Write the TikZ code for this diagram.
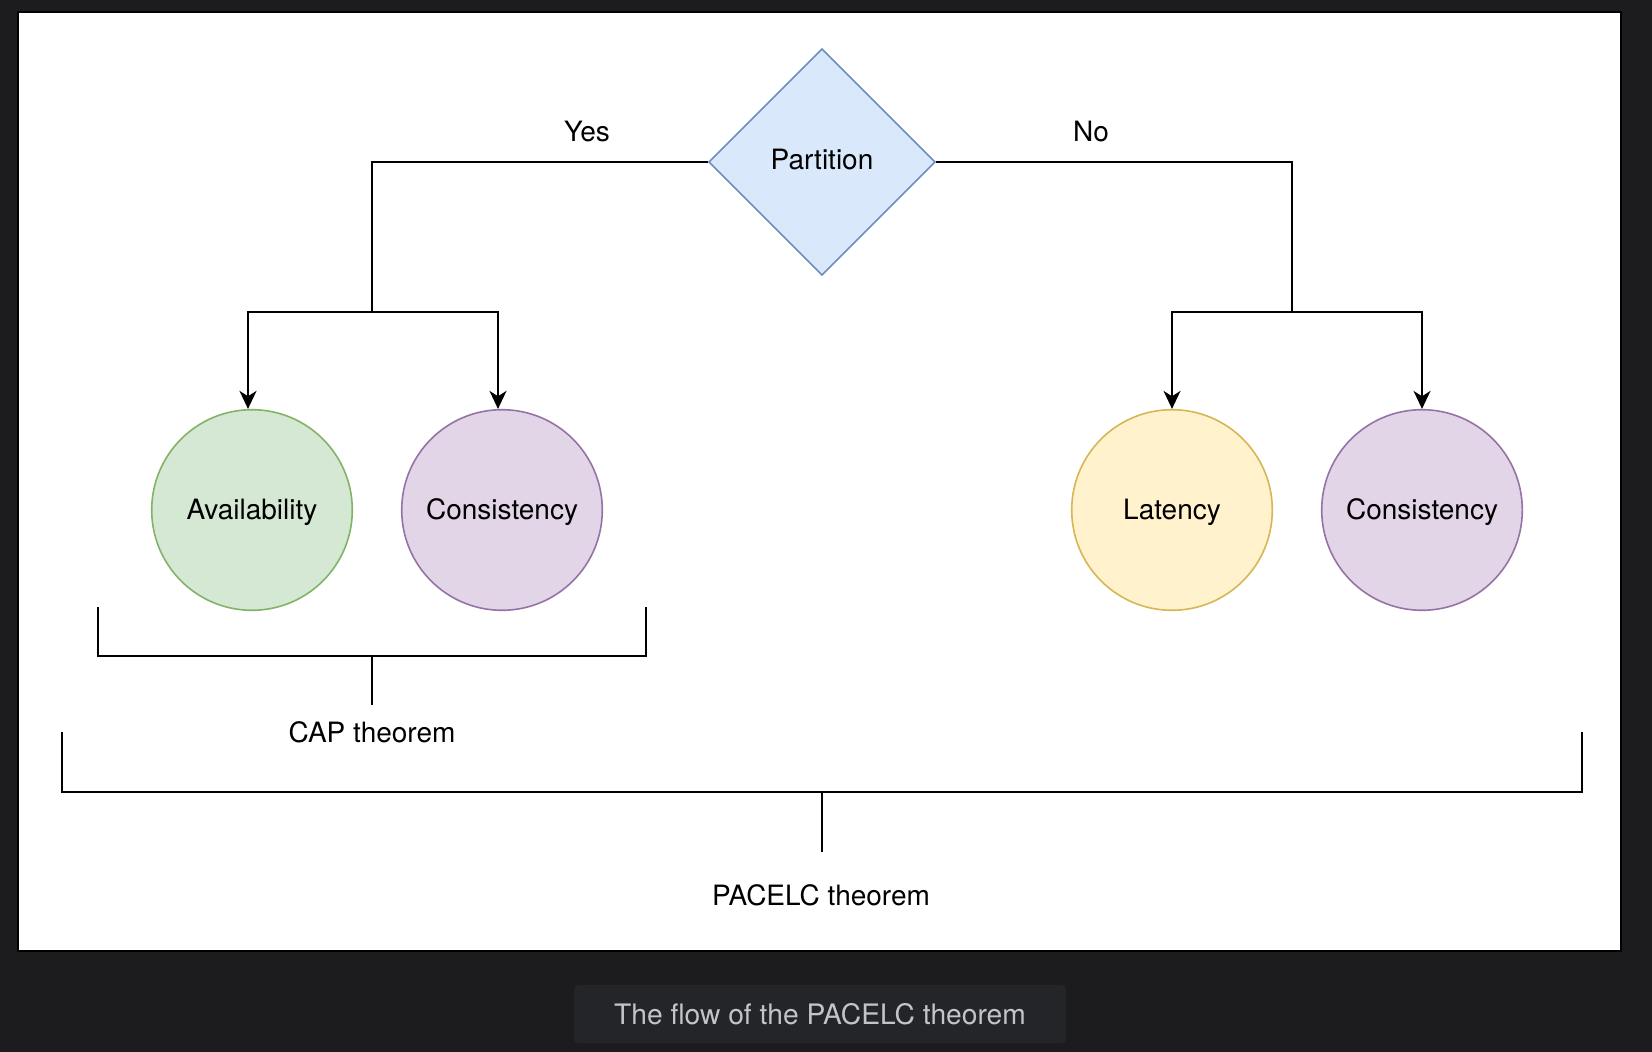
\documentclass[tikz,border=0pt]{standalone}
\usepackage{fontspec}
\setmainfont{TeX Gyre Heros}
\usetikzlibrary{shapes.geometric,arrows.meta}
\definecolor{pagebg}{HTML}{1C1C1E}
\definecolor{capbg}{HTML}{242529}
\definecolor{captext}{HTML}{C4C4C8}
\definecolor{bluefill}{HTML}{DAE8FC}
\definecolor{bluedraw}{HTML}{6C8EBF}
\definecolor{greenfill}{HTML}{D5E8D4}
\definecolor{greendraw}{HTML}{82B366}
\definecolor{purplefill}{HTML}{E1D5E7}
\definecolor{purpledraw}{HTML}{9673A6}
\definecolor{yellowfill}{HTML}{FFF2CC}
\definecolor{yellowdraw}{HTML}{D6B656}
\tikzstyle{line} = [line width=1pt]
\tikzstyle{arrow} = [line,-{Stealth[length=9pt,width=8.5pt,inset=2.7pt]}]
\tikzstyle{label} = [font=\fontsize{14}{17}\selectfont,inner sep=0pt,text height=10pt,text depth=0pt]
\tikzstyle{state} = [label,circle,draw,line width=0.8pt,minimum size=100.3pt]
\tikzstyle{choice} = [label,diamond,draw=bluedraw,fill=bluefill,line width=0.8pt,aspect=1,minimum size=113.3pt,text depth=2pt]

\begin{document}
\begin{tikzpicture}[x=0.5pt,y=-0.5pt]
        \fill[pagebg] (0,0) rectangle (1652,1052);
        \useasboundingbox (0,0) rectangle (1652,1052);
        \draw[line, fill=white] (18,12) rectangle (1621,951);
        \fill[capbg, rounded corners=2pt] (574,985) rectangle (1066,1043);
        \node[label, text=captext, font=\fontsize{14.1}{17}\selectfont, text height=10.1pt] (caption) at (820,1014) {The flow of the PACELC theorem};

        \node[choice] at (822,162) (part) {Partition};
        \node[state, draw=greendraw, fill=greenfill] at (252,510) (avail) {Availability};
        \node[state, draw=purpledraw, fill=purplefill] at (502,510) (consa) {Consistency};
        \node[state, draw=yellowdraw, fill=yellowfill] at (1172,510) (lat) {Latency};
        \node[state, draw=purpledraw, fill=purplefill] at (1422,510) (consb) {Consistency};

        \node[label] at (587,132) (yes) {Yes};
        \node[label] at (1091,132) (no) {No};
        \node[label] at (372,732) (cap) {CAP theorem};
        \node[label] at (821,895) (pacelc) {PACELC theorem};

        \coordinate (ysplit) at (372,312);
        \coordinate (nsplit) at (1292,312);
        \draw[line] (part.west) -| (ysplit);
        \draw[line] (part.east) -| (nsplit);
        \draw[arrow] (ysplit) -| ([xshift=-2pt]avail.north);
        \draw[arrow] (ysplit) -| ([xshift=-2pt]consa.north);
        \draw[arrow] (nsplit) -| (lat.north);
        \draw[arrow] (nsplit) -| (consb.north);

        % brackets
        \draw[line] (98,607) -- (98,656) -- (646,656) -- (646,607);
        \draw[line] (372,656) -- (372,705);
        \draw[line] (62,732) -- (62,792) -- (1582,792) -- (1582,732);
        \draw[line] (822,792) -- (822,852);

      \end{tikzpicture}
\end{document}
